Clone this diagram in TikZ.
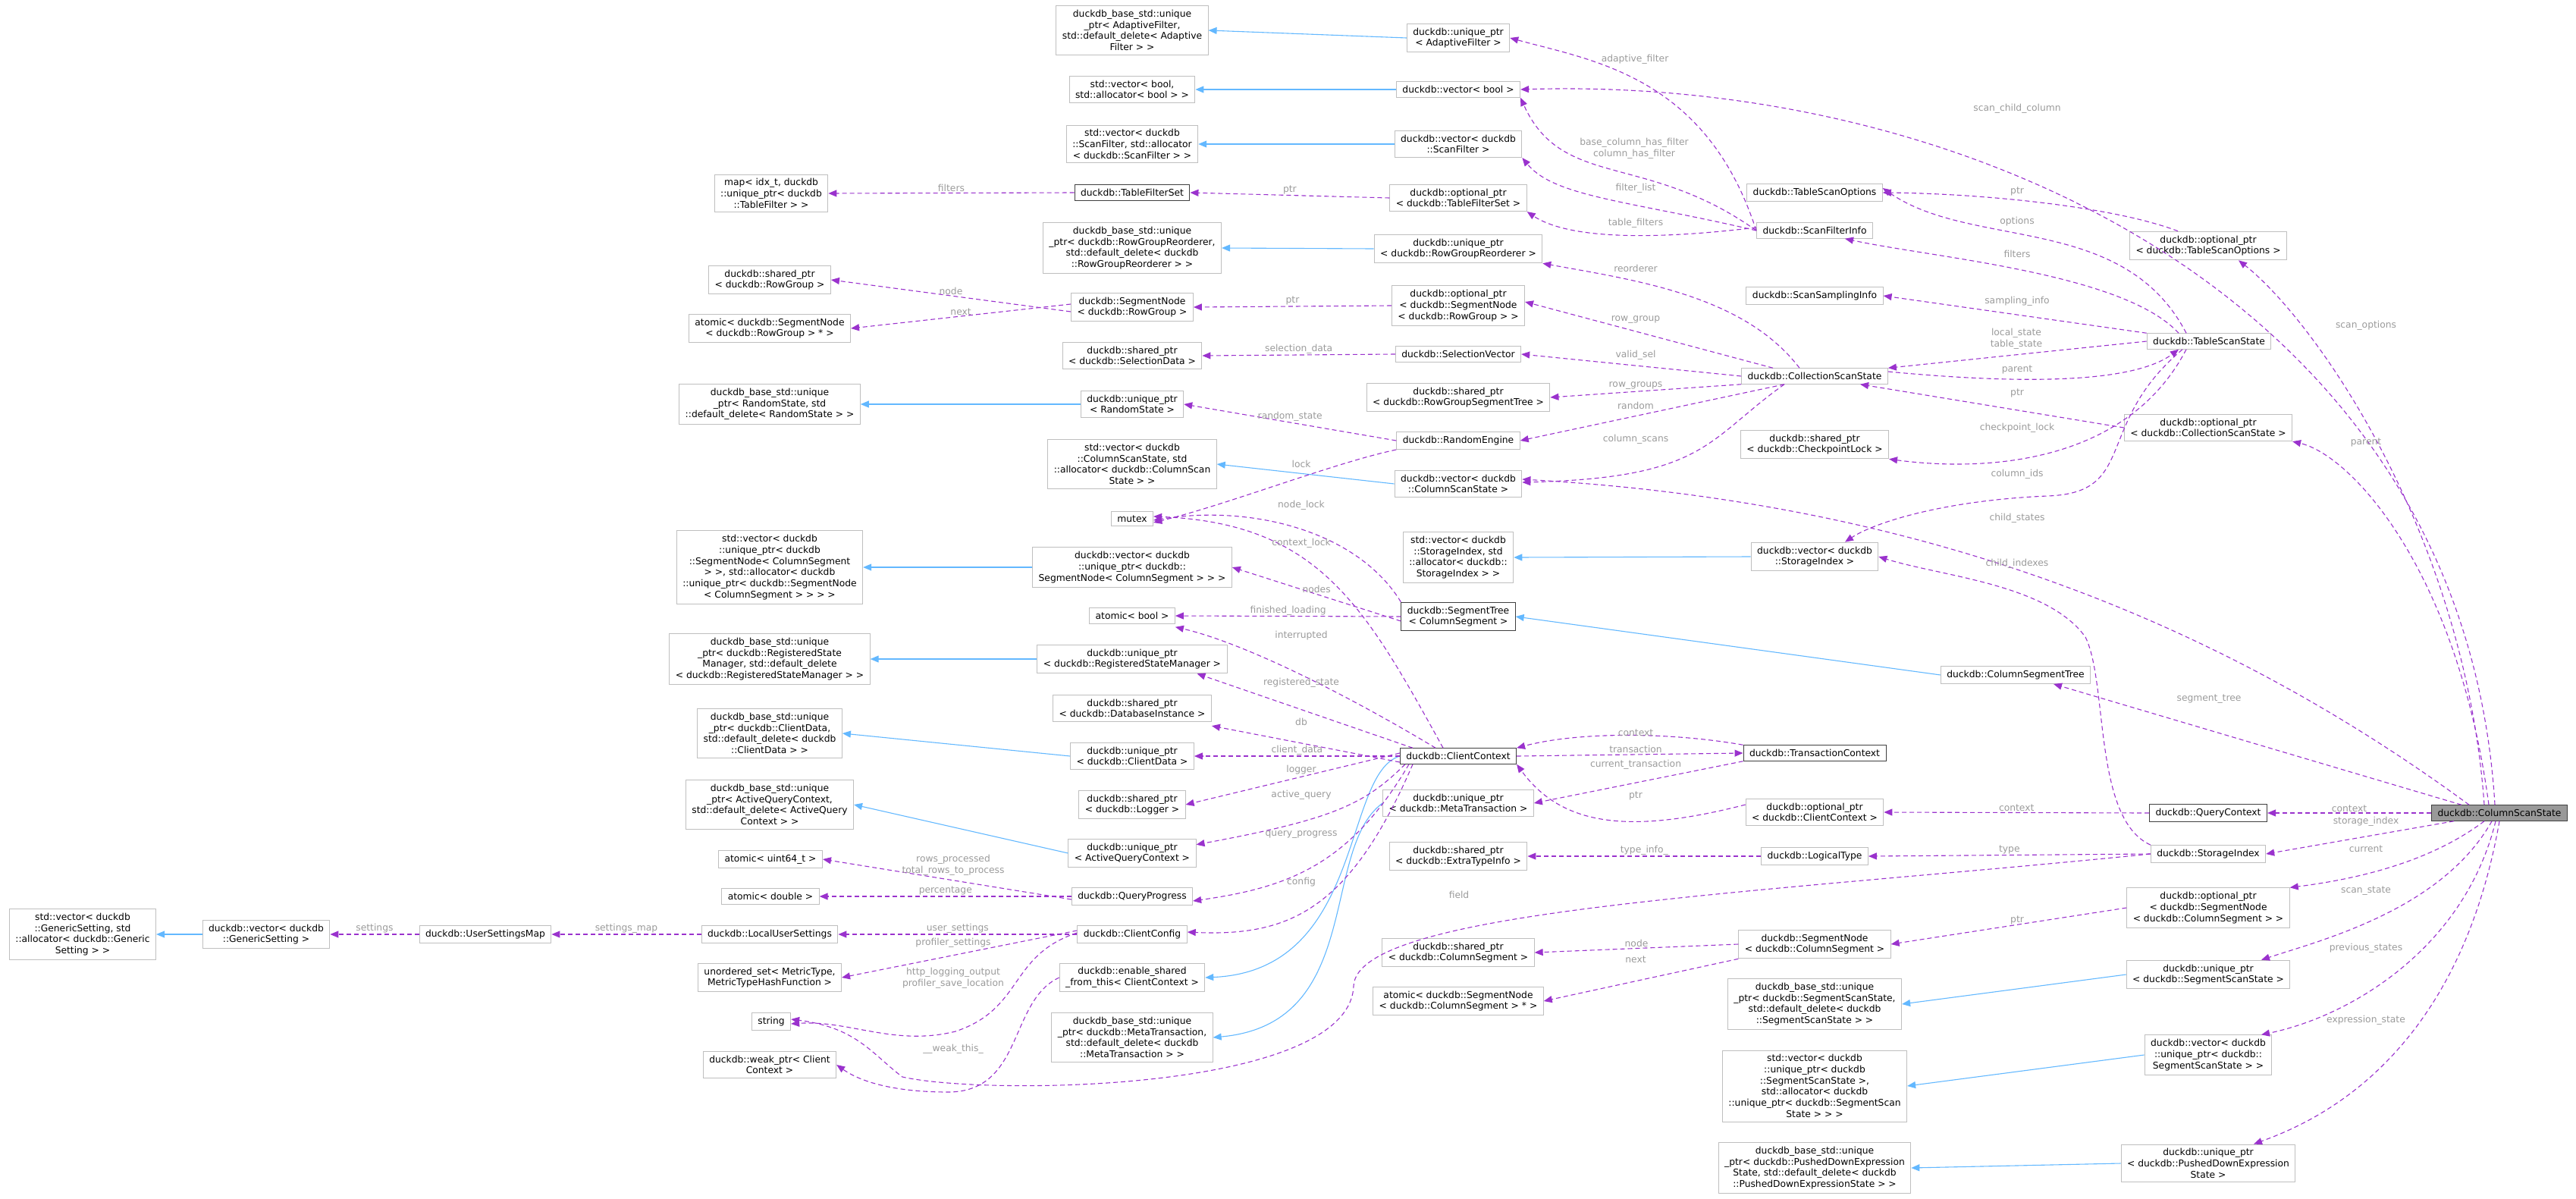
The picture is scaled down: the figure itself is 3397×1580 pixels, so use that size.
\documentclass[tikz,border=0pt]{standalone}
\usepackage{fontspec}
\setmainfont{DejaVu Sans}
\usetikzlibrary{arrows.meta}
\definecolor{pur}{HTML}{9A32CD}
\definecolor{inb}{HTML}{63B8FF}
\definecolor{bgr}{HTML}{BFBFBF}
\definecolor{dgr}{HTML}{404040}
\definecolor{lgr}{HTML}{9A9A9A}
\newcommand\nf{\fontsize{12.3}{14.7}\selectfont}
\begin{document}
\begin{tikzpicture}[x=1pt,y=-1pt,
 box/.style={draw=bgr,fill=white,font=\nf,align=center,inner xsep=8pt,inner ysep=5.5pt,line width=1pt},
 dark/.style={box,draw=dgr},
 sel/.style={box,draw=dgr,fill=black!40},
 mem/.style={draw=pur,dash pattern=on 6pt off 4pt,line width=1.1pt,-{Triangle[length=11pt,width=9pt]}},
 inh/.style={draw=inb,line width=1.1pt,-{Triangle[length=11pt,width=9pt]}},
 lbl/.style={text=lgr,font=\nf,inner sep=1pt,align=center}]
\useasboundingbox (0,0) rectangle (3397,1580);
% column 1
\node[box] (gsv) at (109,1232) {std::vector< duckdb\\::GenericSetting, std\\::allocator< duckdb::Generic\\Setting > >};
\node[box] (vgs) at (351,1232) {duckdb::vector< duckdb\\::GenericSetting >};
\node[box] (usm) at (640,1232) {duckdb::UserSettingsMap};
% column 2
\node[box] (map) at (1017,255) {map< idx\_t, duckdb\\::unique\_ptr< duckdb\\::TableFilter > >};
\node[box] (sprg) at (1015,369) {duckdb::shared\_ptr\\< duckdb::RowGroup >};
\node[box] (asnrg) at (1015,433) {atomic< duckdb::SegmentNode\\< duckdb::RowGroup > * >};
\node[box] (brs) at (1015,533) {duckdb\_base\_std::unique\\\_ptr< RandomState, std\\::default\_delete< RandomState > >};
\node[box] (svsn) at (1015,748) {std::vector< duckdb\\::unique\_ptr< duckdb\\::SegmentNode< ColumnSegment\\ > >, std::allocator< duckdb\\::unique\_ptr< duckdb::SegmentNode\\< ColumnSegment > > > >};
\node[box] (brsm) at (1015,869) {duckdb\_base\_std::unique\\\_ptr< duckdb::RegisteredState\\Manager, std::default\_delete\\< duckdb::RegisteredStateManager > >};
\node[box] (bcd) at (1015,967) {duckdb\_base\_std::unique\\\_ptr< duckdb::ClientData,\\ std::default\_delete< duckdb\\::ClientData > >};
\node[box] (baq) at (1015,1061) {duckdb\_base\_std::unique\\\_ptr< ActiveQueryContext,\\ std::default\_delete< ActiveQuery\\Context > >};
\node[box] (au64) at (1016,1133) {atomic< uint64\_t >};
\node[box] (adbl) at (1016,1182) {atomic< double >};
\node[box] (lus) at (1015,1232) {duckdb::LocalUserSettings};
\node[box] (uset) at (1015,1289) {unordered\_set< MetricType,\\ MetricTypeHashFunction >};
\node[box] (str) at (1017,1347) {string};
\node[box] (wp) at (1015,1404) {duckdb::weak\_ptr< Client\\Context >};
% column 3
\node[box] (baf) at (1493,40) {duckdb\_base\_std::unique\\\_ptr< AdaptiveFilter,\\ std::default\_delete< Adaptive\\Filter > >};
\node[box] (svb) at (1493,118) {std::vector< bool,\\ std::allocator< bool > >};
\node[box] (svsf) at (1493,190) {std::vector< duckdb\\::ScanFilter, std::allocator\\< duckdb::ScanFilter > >};
\node[dark] (tfs) at (1493,254) {duckdb::TableFilterSet};
\node[box] (brgr) at (1493,327) {duckdb\_base\_std::unique\\\_ptr< duckdb::RowGroupReorderer,\\ std::default\_delete< duckdb\\::RowGroupReorderer > >};
\node[box] (snrg) at (1493,405) {duckdb::SegmentNode\\< duckdb::RowGroup >};
\node[box] (spsd) at (1493,469) {duckdb::shared\_ptr\\< duckdb::SelectionData >};
\node[box] (uprs) at (1493,533) {duckdb::unique\_ptr\\< RandomState >};
\node[box] (svcs) at (1493,612) {std::vector< duckdb\\::ColumnScanState, std\\::allocator< duckdb::ColumnScan\\State > >};
\node[box] (mtx) at (1493,684) {mutex};
\node[box] (vsncs) at (1493,748) {duckdb::vector< duckdb\\::unique\_ptr< duckdb::\\SegmentNode< ColumnSegment > > >};
\node[box] (abool) at (1493,812) {atomic< bool >};
\node[box] (uprsm) at (1493,869) {duckdb::unique\_ptr\\< duckdb::RegisteredStateManager >};
\node[box] (spdb) at (1493,934) {duckdb::shared\_ptr\\< duckdb::DatabaseInstance >};
\node[box] (upcd) at (1493,997) {duckdb::unique\_ptr\\< duckdb::ClientData >};
\node[box] (splog) at (1493,1061) {duckdb::shared\_ptr\\< duckdb::Logger >};
\node[box] (upaq) at (1493,1125) {duckdb::unique\_ptr\\< ActiveQueryContext >};
\node[box] (qp) at (1493,1182) {duckdb::QueryProgress};
\node[box] (ccfg) at (1493,1232) {duckdb::ClientConfig};
\node[box] (esft) at (1493,1289) {duckdb::enable\_shared\\\_from\_this< ClientContext >};
\node[box] (bmt) at (1493,1368) {duckdb\_base\_std::unique\\\_ptr< duckdb::MetaTransaction,\\ std::default\_delete< duckdb\\::MetaTransaction > >};
% column 4
\node[box] (upaf) at (1923,50) {duckdb::unique\_ptr\\< AdaptiveFilter >};
\node[box] (vb) at (1923,118) {duckdb::vector< bool >};
\node[box] (vsf) at (1923,190) {duckdb::vector< duckdb\\::ScanFilter >};
\node[box] (otfs) at (1923,261) {duckdb::optional\_ptr\\< duckdb::TableFilterSet >};
\node[box] (uprgr) at (1923,328) {duckdb::unique\_ptr\\< duckdb::RowGroupReorderer >};
\node[box] (osnrg) at (1923,403) {duckdb::optional\_ptr\\< duckdb::SegmentNode\\< duckdb::RowGroup > >};
\node[box] (sv) at (1923,467) {duckdb::SelectionVector};
\node[box] (sprgst) at (1923,524) {duckdb::shared\_ptr\\< duckdb::RowGroupSegmentTree >};
\node[box] (re) at (1923,581) {duckdb::RandomEngine};
\node[box] (vcs) at (1923,638) {duckdb::vector< duckdb\\::ColumnScanState >};
\node[box] (svsi) at (1923,735) {std::vector< duckdb\\::StorageIndex, std\\::allocator< duckdb::\\StorageIndex > >};
\node[dark] (st) at (1923,813) {duckdb::SegmentTree\\< ColumnSegment >};
\node[dark] (cc) at (1923,997) {duckdb::ClientContext};
\node[box] (upmt) at (1923,1059) {duckdb::unique\_ptr\\< duckdb::MetaTransaction >};
\node[box] (spet) at (1923,1129) {duckdb::shared\_ptr\\< duckdb::ExtraTypeInfo >};
\node[box] (spcs) at (1923,1256) {duckdb::shared\_ptr\\< duckdb::ColumnSegment >};
\node[box] (asncs) at (1923,1320) {atomic< duckdb::SegmentNode\\< duckdb::ColumnSegment > * >};
% column 5
\node[box] (tso) at (2393,254) {duckdb::TableScanOptions};
\node[box] (sfi) at (2393,304) {duckdb::ScanFilterInfo};
\node[box] (ssi) at (2393,390) {duckdb::ScanSamplingInfo};
\node[box] (css) at (2393,496) {duckdb::CollectionScanState};
\node[box] (spcl) at (2393,586) {duckdb::shared\_ptr\\< duckdb::CheckpointLock >};
\node[box] (vsi) at (2393,734) {duckdb::vector< duckdb\\::StorageIndex >};
\node[dark] (tc) at (2393,993) {duckdb::TransactionContext};
\node[box] (occ) at (2393,1071) {duckdb::optional\_ptr\\< duckdb::ClientContext >};
\node[box] (lt) at (2393,1129) {duckdb::LogicalType};
\node[box] (sncs) at (2393,1245) {duckdb::SegmentNode\\< duckdb::ColumnSegment >};
\node[box] (bsss) at (2393,1324) {duckdb\_base\_std::unique\\\_ptr< duckdb::SegmentScanState,\\ std::default\_delete< duckdb\\::SegmentScanState > >};
\node[box] (svsss) at (2393,1432) {std::vector< duckdb\\::unique\_ptr< duckdb\\::SegmentScanState >,\\ std::allocator< duckdb\\::unique\_ptr< duckdb::SegmentScan\\State > > >};
\node[box] (bpde) at (2393,1540) {duckdb\_base\_std::unique\\\_ptr< duckdb::PushedDownExpression\\State, std::default\_delete< duckdb\\::PushedDownExpressionState > >};
% column 6
\node[box] (otso) at (2912,324) {duckdb::optional\_ptr\\< duckdb::TableScanOptions >};
\node[box] (tss) at (2913,450) {duckdb::TableScanState};
\node[box] (ocss) at (2912,564) {duckdb::optional\_ptr\\< duckdb::CollectionScanState >};
\node[box] (cst) at (2658,890) {duckdb::ColumnSegmentTree};
\node[dark] (qc) at (2912,1072) {duckdb::QueryContext};
\node[box] (si) at (2912,1126) {duckdb::StorageIndex};
\node[box] (osncs) at (2912,1197) {duckdb::optional\_ptr\\< duckdb::SegmentNode\\< duckdb::ColumnSegment > >};
\node[box] (upsss) at (2912,1285) {duckdb::unique\_ptr\\< duckdb::SegmentScanState >};
\node[box] (vupsss) at (2912,1391) {duckdb::vector< duckdb\\::unique\_ptr< duckdb::\\SegmentScanState > >};
\node[box] (uppde) at (2912,1534) {duckdb::unique\_ptr\\< duckdb::PushedDownExpression\\State >};
\node[sel] (cols) at (3296,1072) {duckdb::ColumnScanState};

% inheritance
\draw[inh] (upaf.west) -- (baf.east);
\draw[inh] (vb.west) -- (svb.east);
\draw[inh] (vsf.west) -- (svsf.east);
\draw[inh] (uprgr.west) -- (brgr.east);
\draw[inh] (uprs.west) -- (brs.east);
\draw[inh] (vcs.west) -- (svcs.east);
\draw[inh] (vsncs.west) -- (svsn.east);
\draw[inh] (uprsm.west) -- (brsm.east);
\draw[inh] (upcd.west) -- (bcd.east);
\draw[inh] (upaq.west) -- (baq.east);
\draw[inh] (vgs.west) -- (gsv.east);
\draw[inh] (vsi.west) -- (svsi.east);
\draw[inh] (cst.west) -- (st.east);
\draw[inh] (upsss.west) -- (bsss.east);
\draw[inh] (vupsss.west) -- (svsss.east);
\draw[inh] (uppde.west) -- (bpde.east);
\draw[inh] (cc.west) .. controls (1770,1020) and (1800,1280) .. (esft.east);
\draw[inh] (upmt.west) .. controls (1740,1120) and (1800,1350) .. (bmt.east);

% members
\draw[mem] (tfs.west) -- node[lbl,above] {filters} (map.east);
\draw[mem] (otfs.west) -- node[lbl,above] {ptr} (tfs.east);
\draw[mem] ([yshift=-6pt]snrg.west) -- node[lbl,above] {node} (sprg.east);
\draw[mem] ([yshift=4pt]snrg.west) -- node[lbl,above] {next} (asnrg.east);
\draw[mem] (osnrg.west) -- node[lbl,above] {ptr} (snrg.east);
\draw[mem] (sv.west) -- node[lbl,above] {selection\_data} (spsd.east);
\draw[mem] (re.west) -- node[lbl,above] {random\_state} (uprs.east);
\draw[mem] (re.south west) .. controls (1760,610) and (1620,665) .. ([yshift=-5pt]mtx.east) node[lbl] at (1716,612) {lock};
\draw[mem] (st.north west) .. controls (1790,700) and (1650,665) .. ([yshift=-2pt]mtx.east) node[lbl] at (1716,666) {node\_lock};
\draw[mem] ([xshift=-20pt]cc.north) .. controls (1800,800) and (1740,690) .. ([yshift=3pt]mtx.east) node[lbl] at (1716,716) {context\_lock};
\draw[mem] ([yshift=-6pt]st.west) -- node[lbl,above] {nodes} (vsncs.east);
\draw[mem] (st.west) -- node[lbl,above] {finished\_loading} (abool.east);
\draw[mem] ([xshift=-30pt]cc.north) .. controls (1800,930) and (1650,850) .. ([yshift=-4pt]abool.south east) node[lbl] at (1716,838) {interrupted};
\draw[mem] ([xshift=-60pt]cc.north) -- ([xshift=-40pt]uprsm.south east) node[lbl] at (1716,900) {registered\_state};
\draw[mem] ([yshift=-8pt]cc.west) -- ([yshift=-5pt]spdb.south east) node[lbl] at (1716,952) {db};
\draw[mem] (cc.west) -- node[lbl,above] {client\_data} (upcd.east);
\draw[mem] ([yshift=4pt]cc.west) -- (splog.east) node[lbl] at (1716,1015) {logger};
\draw[mem] ([xshift=-70pt]cc.south) .. controls (1800,1060) and (1760,1080) .. ([yshift=-8pt]upaq.north east) node[lbl] at (1716,1048) {active\_query};
\draw[mem] ([xshift=-65pt]cc.south) .. controls (1780,1140) and (1700,1170) .. ([yshift=-6pt]qp.east) node[lbl] at (1716,1100) {query\_progress};
\draw[mem] ([xshift=-60pt]cc.south) .. controls (1780,1200) and (1700,1235) .. ([yshift=3pt]ccfg.east) node[lbl] at (1716,1163) {config};
\draw[mem] ([yshift=-4pt]qp.west) -- (au64.east) node[lbl] at (1257,1141) {rows\_processed\\total\_rows\_to\_process};
\draw[mem] (qp.west) -- node[lbl,above] {percentage} (adbl.east);
\draw[mem] (ccfg.west) -- node[lbl,above] {user\_settings} (lus.east);
\draw[mem] ([yshift=5pt]ccfg.west) -- (uset.east) node[lbl] at (1257,1243) {profiler\_settings};
\draw[mem] ([yshift=2pt]ccfg.west) .. controls (1330,1260) and (1350,1330) .. (1260,1360) .. controls (1180,1380) and (1120,1345) .. ([yshift=-3pt]str.east) node[lbl] at (1257,1290) {http\_logging\_output\\profiler\_save\_location};
\draw[mem] (lus.west) -- node[lbl,above] {settings\_map} (usm.east);
\draw[mem] (usm.west) -- node[lbl,above] {settings} (vgs.east);
\draw[mem] (esft.west) .. controls (1330,1320) and (1350,1440) .. (1250,1440) .. controls (1190,1440) and (1140,1430) .. (wp.east) node[lbl] at (1257,1383) {\_\_weak\_this\_};
\draw[mem] (si.west) .. controls (2300,1180) and (1790,1200) .. (1785,1300) .. controls (1780,1440) and (1300,1445) .. (1190,1420) .. controls (1150,1390) and (1130,1355) .. ([yshift=3pt]str.east) node[lbl] at (1924,1180) {field};

\draw[mem] (sfi.west) .. controls (2250,100) and (2100,80) .. (upaf.east) node[lbl] at (2156,78) {adaptive\_filter};
\draw[mem] (sfi.west) .. controls (2170,200) and (2060,250) .. (vb.south east) node[lbl] at (2155,196) {base\_column\_has\_filter\\column\_has\_filter};
\draw[mem] (sfi.west) .. controls (2150,265) and (2050,260) .. (vsf.south east) node[lbl] at (2157,248) {filter\_list};
\draw[mem] ([yshift=4pt]sfi.west) .. controls (2150,320) and (2060,310) .. (otfs.south east) node[lbl] at (2157,294) {table\_filters};
\draw[mem] ([xshift=-6pt]cols.north) .. controls (3250,400) and (2600,100) .. (vb.east) node[lbl] at (2660,143) {scan\_child\_column};
\draw[mem] ([xshift=-40pt]otso.north) .. controls (2780,270) and (2600,255) .. (tso.east) node[lbl] at (2660,252) {ptr};
\draw[mem] ([xshift=-30pt]tss.north) .. controls (2800,280) and (2600,330) .. ([yshift=6pt]tso.east) node[lbl] at (2660,292) {options};
\draw[mem] ([xshift=-40pt]tss.north) .. controls (2800,360) and (2550,340) .. ([xshift=40pt]sfi.south) node[lbl] at (2660,335) {filters};
\draw[mem] (tss.north west) -- (ssi.east) node[lbl] at (2660,397) {sampling\_info};
\draw[mem] (tss.west) -- (css.north east) node[lbl] at (2659,447) {local\_state\\table\_state};
\draw[mem] ([yshift=6pt]css.east) .. controls (2700,510) and (2820,500) .. ([xshift=-40pt]tss.south) node[lbl] at (2660,487) {parent};
\draw[mem] (ocss.west) -- ([xshift=60pt]css.south) node[lbl] at (2660,518) {ptr};
\draw[mem] ([xshift=-30pt]tss.south) .. controls (2800,620) and (2600,620) .. (spcl.south east) node[lbl] at (2660,564) {checkpoint\_lock};
\draw[mem] ([xshift=-35pt]tss.south) .. controls (2760,560) and (2820,650) .. (2700,654) .. controls (2560,660) and (2470,690) .. ([xshift=40pt]vsi.north) node[lbl] at (2660,625) {column\_ids};
\draw[mem] ([xshift=-20pt]css.north) .. controls (2300,390) and (2160,370) .. (uprgr.south east) node[lbl] at (2157,354) {reorderer};
\draw[mem] ([xshift=-55pt]css.north) -- ([yshift=5pt]osnrg.east) node[lbl] at (2157,421) {row\_group};
\draw[mem] (css.west) -- (sv.east) node[lbl] at (2157,468) {valid\_sel};
\draw[mem] (css.south west) -- (sprgst.east) node[lbl] at (2157,508) {row\_groups};
\draw[mem] ([xshift=-40pt]css.south) -- (re.east) node[lbl] at (2157,535) {random};
\draw[mem] ([xshift=-40pt]css.south) .. controls (2250,580) and (2250,630) .. ([yshift=2pt]vcs.east) node[lbl] at (2157,579) {column\_scans};
\draw[mem] ([xshift=-40pt]cols.north) .. controls (2900,800) and (2500,660) .. ([yshift=6pt]vcs.east) node[lbl] at (2660,683) {child\_states};
\draw[mem] ([xshift=-20pt]cols.north) .. controls (3250,700) and (3050,420) .. ([xshift=40pt]otso.south) node[lbl] at (3120,429) {scan\_options};
\draw[mem] ([xshift=-14pt]cols.north) .. controls (3240,750) and (3100,600) .. (ocss.south east) node[lbl] at (3120,583) {parent};
\draw[mem] (si.north west) .. controls (2760,1080) and (2780,900) .. (2750,840) .. controls (2700,770) and (2560,760) .. (vsi.east) node[lbl] at (2660,743) {child\_indexes};
\draw[mem] ([xshift=-50pt]cols.north) -- ([xshift=50pt]cst.south) node[lbl] at (2913,922) {segment\_tree};
\draw[mem] (cols.west) -- node[lbl,above] {context} (qc.east);
\draw[mem] (qc.west) -- node[lbl,above] {context} (occ.east);
\draw[mem] ([yshift=10pt]occ.west) .. controls (2150,1100) and (2060,1090) .. (cc.south east) node[lbl] at (2157,1049) {ptr};
\draw[mem] (tc.north west) .. controls (2200,965) and (2080,965) .. (cc.north east) node[lbl] at (2157,966) {context};
\draw[mem] (cc.east) -- (tc.west) node[lbl] at (2157,988) {transaction};
\draw[mem] (tc.south west) -- (upmt.east) node[lbl] at (2157,1008) {current\_transaction};
\draw[mem] ([xshift=30pt]cols.south west) -- (si.east) node[lbl] at (3120,1083) {storage\_index};
\draw[mem] (si.west) -- node[lbl,above] {type} (lt.east);
\draw[mem] (lt.west) -- node[lbl,above] {type\_info\_} (spet.east);
\draw[mem] ([xshift=-20pt]cols.south) .. controls (3200,1140) and (3100,1160) .. (osncs.north east) node[lbl] at (3120,1119) {current};
\draw[mem] (osncs.west) -- (sncs.east) node[lbl] at (2660,1213) {ptr};
\draw[mem] (sncs.west) -- node[lbl,above] {node} (spcs.east);
\draw[mem] (sncs.south west) -- (asncs.east) node[lbl] at (2157,1265) {next};
\draw[mem] ([xshift=-10pt]cols.south) .. controls (3220,1200) and (3060,1240) .. ([xshift=70pt]upsss.north) node[lbl] at (3120,1175) {scan\_state};
\draw[mem] ([xshift=-5pt]cols.south) .. controls (3250,1250) and (3100,1340) .. ([xshift=70pt]vupsss.north) node[lbl] at (3120,1250) {previous\_states};
\draw[mem] (cols.south) .. controls (3240,1400) and (3050,1480) .. ([xshift=60pt]uppde.north) node[lbl] at (3120,1345) {expression\_state};
\end{tikzpicture}
\end{document}
